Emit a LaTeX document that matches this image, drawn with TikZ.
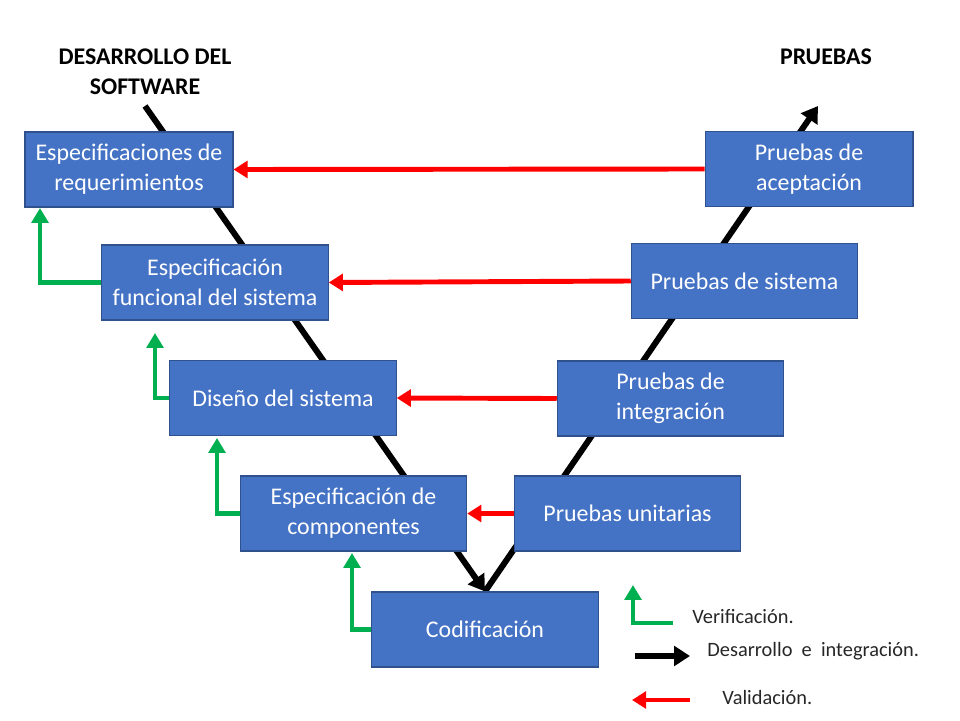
\documentclass[tikz,border=0pt]{standalone}
\usepackage{fontspec}
\setmainfont{Carlito}
\usepackage{xcolor}
\usetikzlibrary{arrows.meta,backgrounds,positioning}

\definecolor{azulcaja}{HTML}{4472C4}
\definecolor{bordecaja}{HTML}{2F528F}
\definecolor{verdeflecha}{HTML}{00B050}
\definecolor{rojoflecha}{HTML}{FF0000}

\begin{document}
\begin{tikzpicture}[x=0.02cm,y=-0.02cm,
    etapa/.style={draw=bordecaja,fill=azulcaja,text=white,line width=0.6pt,
        minimum width=4.53cm,minimum height=1.5cm,inner sep=0pt,align=center,
        font=\fontsize{13.6}{17}\selectfont},
    angosta/.style={etapa,minimum width=4.16cm},
    titulo/.style={align=center,font=\fontsize{13.6}{17}\selectfont\bfseries},
    leyenda/.style={anchor=west,inner sep=0pt,text=black!85,
        font=\fontsize{11.6}{13}\selectfont},
    desarrollo/.style={line width=3.4pt,-{Triangle[length=9pt,width=11pt]}},
    validacion/.style={draw=rojoflecha,line width=2.8pt,-{Triangle[length=8pt,width=9.5pt]}},
    verificacion/.style={draw=verdeflecha,line width=2.8pt,-{Triangle[length=8.5pt,width=9.5pt]}}]

    \useasboundingbox (0,0) rectangle (960,720);

    % titulos
    \node[titulo] (desa) at (145,72) {DESARROLLO DEL\\SOFTWARE};
    \node[titulo] (prue) at (826,57) {PRUEBAS};

    % lado izquierdo
    \node[angosta] (req) at (129,169.5) {Especificaciones de\\requerimientos};
    \node[etapa] (func) at (215,282.5) {Especificación\\funcional del sistema};
    \node[etapa] (dis) at (283,398) {Diseño del sistema};
    \node[etapa] (comp) at (353.5,513.5) {Especificación de\\componentes};
    \node[etapa] (cod) at (485,629.5) {Codificación};

    % lado derecho
    \node[etapa] (unit) at (627.5,513.5) {Pruebas unitarias};
    \node[etapa] (integ) at (670.5,398.5) {Pruebas de\\integración};
    \node[etapa] (sist) at (744.5,281) {Pruebas de sistema};
    \node[angosta] (acep) at (809,169) {Pruebas de\\aceptación};

    % la V
    \coordinate (vini) at (145,106);
    \coordinate (vfin) at (818,106);
    \begin{scope}[on background layer]
        \draw[desarrollo] (vini) -- (cod.north);
        \draw[desarrollo] (cod.north) -- (vfin);
    \end{scope}

    % validacion
    \draw[validacion] (acep.west) -- (req.east);
    \draw[validacion] (sist.west) -- (func.east);
    \draw[validacion] (integ.west) -- (dis.east);
    \draw[validacion] (unit.west) -- (comp.east);

    % verificacion
    \coordinate (ver1) at (40,208);
    \coordinate (ver2) at (155,333);
    \coordinate (ver3) at (217,438);
    \coordinate (ver4) at (352,553);
    \draw[verificacion] (func.west) -| (ver1);
    \draw[verificacion] (dis.west) -| (ver2);
    \draw[verificacion] (comp.west) -| (ver3);
    \draw[verificacion] (cod.west) -| (ver4);

    % leyenda
    \coordinate (lverA) at (673,623);
    \coordinate (lverB) at (633,585);
    \coordinate (ldesA) at (635,656);
    \coordinate (ldesB) at (690,656);
    \coordinate (lvalA) at (690,700);
    \coordinate (lvalB) at (632,700);
    \draw[verificacion] (lverA) -| (lverB);
    \draw[desarrollo] (ldesA) -- (ldesB);
    \draw[validacion] (lvalA) -- (lvalB);
    \node[leyenda] (tver) at (692,617) {Verificación.};
    \node[leyenda] (tdes) at (707,651) {Desarrollo\ \ e\ \ integración.};
    \node[leyenda] (tval) at (722,697) {Validación.};
\end{tikzpicture}
\end{document}
